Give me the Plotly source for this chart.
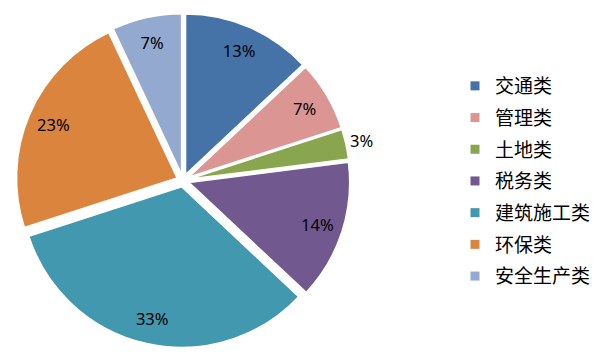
import math
import plotly.graph_objects as go

categories = ["交通类", "管理类", "土地类", "税务类", "建筑施工类", "环保类", "安全生产类"]
values = [13, 7, 3, 14, 33, 23, 7]
colors = ["#4572A7", "#DB9694", "#89A54E", "#71588F", "#4198AF", "#DB843D", "#93A9CF"]
outside = [False, False, True, False, False, False, False]

W, H = 614, 360
PULL = 0.04
# pie domain in pixels (left, right, top, bottom)
dl, dr, dt, db = 16, 350, 13.5, 347.5
dom = dict(x=[dl / W, dr / W], y=[1 - db / H, 1 - dt / H])
pulls = [PULL] * len(values)
total = sum(values)

fig = go.Figure()
# main pie (colours)
fig.add_trace(go.Pie(
    labels=categories, values=values, sort=False, direction="clockwise", rotation=0,
    marker=dict(colors=colors, line=dict(color="white", width=1.5)),
    pull=pulls, textinfo="none", domain=dom,
    showlegend=False, hoverinfo="label+percent",
))
# transparent ring overlay: places the inside percentage labels near the rim
fig.add_trace(go.Pie(
    labels=categories, values=values, sort=False, direction="clockwise", rotation=0,
    hole=0.68,
    marker=dict(colors=["rgba(0,0,0,0)"] * len(values), line=dict(width=0)),
    pull=pulls,
    texttemplate=["" if o else "%{percent:.0%}" for o in outside],
    textposition="inside", insidetextorientation="horizontal",
    textfont=dict(family="Noto Sans", size=16.5, color="#000000"),
    domain=dom, showlegend=False, hoverinfo="skip",
))
# outside label(s) for the thin slice, placed from the slice's mid angle
cx, cy = (dl + dr) / 2, (dt + db) / 2
r = min(dr - dl, db - dt) / (2 * (1 + PULL))
cum = 0
for v, o in zip(values, outside):
    mid = (cum + v / 2) / total * 2 * math.pi
    cum += v
    if o:
        d = r * (1 + PULL) + 16
        x = cx + d * math.sin(mid)
        y = cy - d * math.cos(mid)
        fig.add_annotation(x=x / W, y=1 - y / H, xref="paper", yref="paper",
                           text=f"{round(v / total * 100)}%", showarrow=False,
                           font=dict(family="Noto Sans", size=16.5, color="#000000"))

for c, col in zip(categories, colors):
    fig.add_trace(go.Scatter(
        x=[None], y=[None], mode="markers", name=c, legendgroup=c,
        marker=dict(symbol="square", size=9, color=col), showlegend=True,
    ))

fig.update_layout(
    width=W, height=H, margin=dict(l=0, r=0, t=0, b=0),
    paper_bgcolor="white", plot_bgcolor="white",
    xaxis=dict(visible=False), yaxis=dict(visible=False),
    legend=dict(x=455 / W, y=0.5 - 1 / H, xanchor="left", yanchor="middle",
                font=dict(family="Noto Sans CJK SC", size=19, color="#000000"),
                tracegroupgap=4, itemwidth=30, bgcolor="rgba(0,0,0,0)"),
)
fig.write_html("out.html", config={"displayModeBar": False},
               post_script="document.body.style.margin='0px';")
